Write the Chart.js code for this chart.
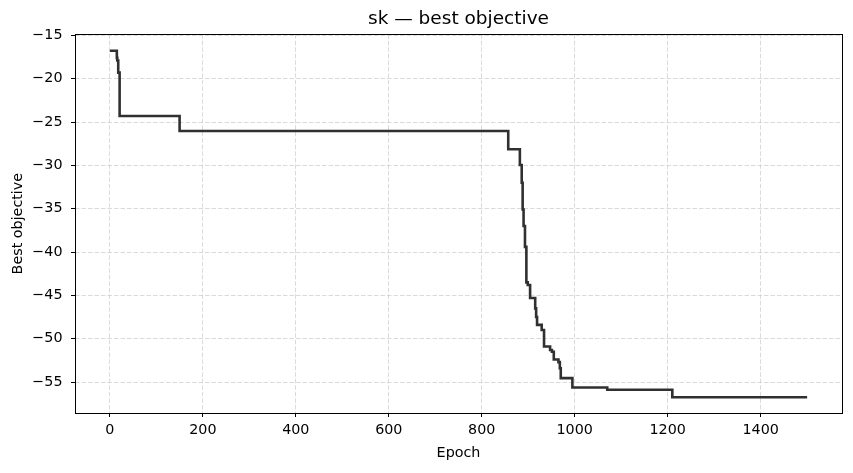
<!DOCTYPE html>
<html>
<head>
<meta charset="utf-8">
<script src="https://cdn.jsdelivr.net/npm/chart.js@4"></script>
<style>
  html, body { margin: 0; padding: 0; background: #fff; }
  #wrap { width: 853px; height: 473px; }
</style>
</head>
<body>
<div id="wrap"><canvas id="myChart" width="853" height="473"></canvas></div>
<script>
// epochs where the best objective changes, and the new best value
const epochs = [0, 15, 16, 18, 21, 150, 857, 882, 886, 888, 890, 893, 896, 899, 904, 915, 917, 919, 929, 934, 947, 951, 955, 965, 968, 970, 995, 1070, 1210, 1500];
const bestValues = [-16.78, -17.6, -17.9, -19.3, -24.3, -26.03, -28.14, -29.95, -32.0, -35.1, -37.0, -39.4, -43.5, -43.8, -45.3, -46.5, -47.5, -48.4, -49.0, -50.9, -51.3, -51.5, -52.4, -52.7, -53.4, -54.55, -55.62, -55.89, -56.75, -56.75];
const xTicks = [0, 200, 400, 600, 800, 1000, 1200, 1400];
const yTicks = [-15, -20, -25, -30, -35, -40, -45, -50, -55];

document.addEventListener("DOMContentLoaded", chart);

function minus(v) {
  return String(v).replace("-", "\u2212");
}

const frame = {
  id: "frame",
  afterDatasetsDraw(c) {
    const a = c.chartArea;
    const ctx = c.ctx;
    ctx.save();
    ctx.strokeStyle = "#000";
    ctx.lineWidth = 1;
    ctx.strokeRect(Math.round(a.left) + 0.5, Math.round(a.top) + 0.5,
      Math.round(a.right - a.left), Math.round(a.bottom - a.top));
    ctx.restore();
  },
};

function chart() {
  const ctx = document.getElementById("myChart");
  const points = epochs.map((e, i) => ({ x: e, y: bestValues[i] }));
  const font = { family: "DejaVu Sans", size: 14.3 };
  const gridOpts = {
    color: "#d0d0d0",
    lineWidth: 0.8,
    drawTicks: true,
    tickLength: 4,
    tickColor: "#000",
    tickWidth: 1,
  };

  new Chart(ctx, {
    type: "line",
    data: {
      datasets: [
        {
          label: "best",
          data: points,
          stepped: true,
          borderColor: "#303030",
          borderWidth: 2.6,
          pointRadius: 0,
          fill: false,
        },
      ],
    },
    plugins: [frame],
    options: {
      responsive: false,
      animation: false,
      layout: { padding: { left: 0, right: 11, top: 0, bottom: 0 } },
      plugins: {
        legend: { display: false },
        tooltip: { enabled: false },
        title: {
          display: true,
          fullSize: false,
          text: "sk \u2014 best objective",
          color: "#000",
          font: { family: "DejaVu Sans", size: 18.5, weight: "normal" },
          padding: { top: 8.4, bottom: 3.7 },
        },
      },
      scales: {
        x: {
          type: "linear",
          min: -75,
          max: 1575,
          afterBuildTicks: (s) => { s.ticks = xTicks.map((v) => ({ value: v })); },
          afterFit: (s) => { s.height = 60; },
          border: { display: false, dash: [4.5, 2] },
          grid: gridOpts,
          ticks: { color: "#000", font: font, padding: 5, maxRotation: 0, callback: (v) => String(v) },
          title: { display: true, text: "Epoch", color: "#000", font: font, padding: { top: 0, bottom: 11.6 } },
        },
        y: {
          type: "linear",
          min: -58.57,
          max: -14.88,
          afterBuildTicks: (s) => { s.ticks = yTicks.map((v) => ({ value: v })); },
          afterFit: (s) => { s.width = 75; },
          border: { display: false, dash: [4.5, 2] },
          grid: gridOpts,
          ticks: { color: "#000", font: font, padding: 8.5, callback: (v) => minus(v) },
          title: { display: true, text: "Best objective", color: "#000", font: font, padding: { top: 9.6, bottom: 0 } },
        },
      },
    },
  });
}
</script>
</body>
</html>
